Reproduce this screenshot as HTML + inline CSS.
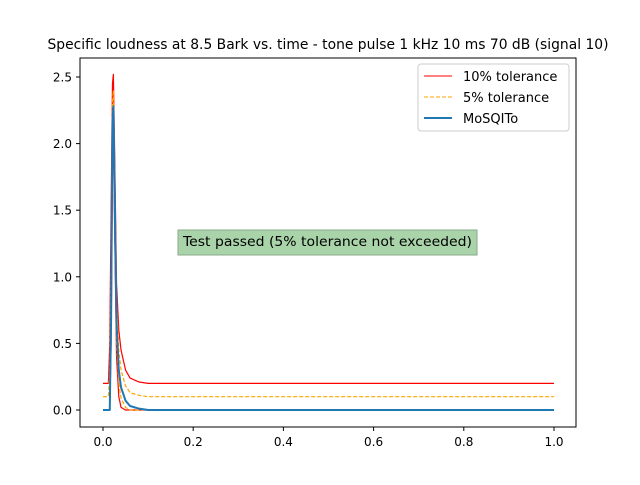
<!DOCTYPE html>
<html><head><meta charset="utf-8"><style>
body{margin:0;background:#fff;font-family:"Liberation Sans","DejaVu Sans",sans-serif}
</style></head><body>
<svg id="c" width="640" height="480" xmlns="http://www.w3.org/2000/svg" font-family="DejaVu Sans, Liberation Sans, sans-serif">
<rect width="640" height="480" fill="#fff"/>
<text x="328" y="49" text-anchor="middle" font-size="13.8" textLength="561" lengthAdjust="spacingAndGlyphs">Specific loudness at 8.5 Bark vs. time - tone pulse 1 kHz 10 ms 70 dB (signal 10)</text>
<g id="marks"></g>
<g id="axes"></g>
<rect x="80" y="58" width="496" height="369" fill="none" stroke="#000" stroke-width="1"/>
<g>
<rect x="418" y="64" width="151" height="67" rx="3" fill="#fff" fill-opacity="0.8" stroke="#ccc"/>
<line x1="424" y1="76" x2="452" y2="76" stroke="red" stroke-width="1"/>
<text x="463" y="81" font-size="13">10% tolerance</text>
<line x1="424" y1="97" x2="452" y2="97" stroke="orange" stroke-width="1" stroke-dasharray="4,2"/>
<text x="463" y="102" font-size="13">5% tolerance</text>
<line x1="424" y1="118" x2="452" y2="118" stroke="#1f77b4" stroke-width="2"/>
<text x="463" y="123" font-size="13">MoSQITo</text>
</g>
<g>
<rect x="178" y="230" width="299" height="25" fill="#a9d3a9" stroke="#8aa88a"/>
<text x="327.5" y="246" text-anchor="middle" font-size="13.5" textLength="289" lengthAdjust="spacingAndGlyphs">Test passed (5% tolerance not exceeded)</text>
</g>
</svg>
<script>
const times = [0, 0.012, 0.015, 0.018, 0.021, 0.023, 0.026, 0.03, 0.035, 0.04, 0.05, 0.06, 0.08, 0.1, 0.15, 1.0];
const mosqito = [0, 0, 0, 0.7, 2.15, 2.28, 1.6, 0.65, 0.3, 0.17, 0.07, 0.03, 0.01, 0, 0, 0];
const upper10 = [0.2, 0.2, 0.5, 1.5, 2.45, 2.52, 1.9, 0.95, 0.6, 0.45, 0.3, 0.24, 0.21, 0.2, 0.2, 0.2];
const lower10 = [0, 0, 0, 0.5, 1.8, 2.05, 1.3, 0.4, 0.1, 0.02, 0, 0, 0, 0, 0, 0];
const upper5 = [0.1, 0.1, 0.3, 1.1, 2.3, 2.4, 1.75, 0.8, 0.45, 0.3, 0.18, 0.13, 0.11, 0.1, 0.1, 0.1];
const lower5 = [0, 0, 0, 0.6, 1.95, 2.17, 1.45, 0.52, 0.2, 0.09, 0.02, 0, 0, 0, 0, 0];
const xTicks = [0.0, 0.2, 0.4, 0.6, 0.8, 1.0];
const yTicks = [0.0, 0.5, 1.0, 1.5, 2.0, 2.5];
const NS = "http://www.w3.org/2000/svg";
const xs = v => 103 + v * 451;
const ys = v => 410 - v * 133.2;
const marks = document.getElementById('marks');
const axes = document.getElementById('axes');
function line(vals, color, w, dash, name) {
  const p = document.createElementNS(NS, 'polyline');
  p.setAttribute('points', times.map((t, i) => xs(t) + ',' + ys(vals[i])).join(' '));
  p.setAttribute('fill', 'none');
  p.setAttribute('stroke', color);
  p.setAttribute('stroke-width', w);
  p.setAttribute('stroke-linejoin', 'round');
  if (dash) p.setAttribute('stroke-dasharray', dash);
  
  
  marks.appendChild(p);
}
line(upper10, 'red', 1.2, null, 'upper-10pct-line');
line(lower10, 'red', 1.2, null, 'lower-10pct-line');
line(upper5, 'orange', 1.2, '4,2', 'upper-5pct-line');
line(lower5, 'orange', 1.2, '4,2', 'lower-5pct-line');
line(mosqito, '#1f77b4', 2, null, 'mosqito-line');
xTicks.forEach(v => {
  const x = xs(v);
  const l = document.createElementNS(NS, 'line');
  l.setAttribute('x1', x); l.setAttribute('x2', x); l.setAttribute('y1', 427); l.setAttribute('y2', 431);
  l.setAttribute('stroke', '#000');
  
  
  axes.appendChild(l);
  const t = document.createElementNS(NS, 'text');
  t.setAttribute('x', x); t.setAttribute('y', 446); t.setAttribute('text-anchor', 'middle'); t.setAttribute('font-size', '12');
  t.textContent = v.toFixed(1);
  
  
  axes.appendChild(t);
});
yTicks.forEach(v => {
  const y = ys(v);
  const l = document.createElementNS(NS, 'line');
  l.setAttribute('x1', 76); l.setAttribute('x2', 80); l.setAttribute('y1', y); l.setAttribute('y2', y);
  l.setAttribute('stroke', '#000');
  
  
  axes.appendChild(l);
  const t = document.createElementNS(NS, 'text');
  t.setAttribute('x', 72); t.setAttribute('y', y + 4.5); t.setAttribute('text-anchor', 'end'); t.setAttribute('font-size', '12');
  t.textContent = v.toFixed(1);
  
  
  axes.appendChild(t);
});
</script>
</body></html>
